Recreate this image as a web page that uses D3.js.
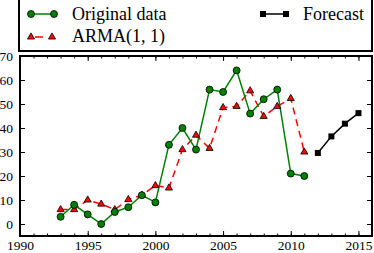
<!DOCTYPE html>
<html>
<head>
<meta charset="utf-8">
<script src="https://cdn.jsdelivr.net/npm/d3@7"></script>
<style>
  body { margin: 0; background: #fff; }
  svg text { font-family: "Liberation Serif", "DejaVu Serif", serif; fill: #000; }
</style>
</head>
<body>
<svg id="chart" width="374" height="253"></svg>
<script>
const years = [1993, 1994, 1995, 1996, 1997, 1998, 1999, 2000, 2001, 2002,
               2003, 2004, 2005, 2006, 2007, 2008, 2009, 2010, 2011];
const original = [3, 8, 4, 0, 5, 7, 12, 9, 33, 40, 31, 56, 55, 64, 46, 52, 56, 21, 20];
const arma = [6, 6, 10, 8.3, 6, 10.2, 12, 16, 15, 31, 37, 31.5, 48.5, 49, 55.5, 44.8, 49, 52.3, 30];
const forecastYears = [2012, 2013, 2014, 2015];
const forecast = [29.6, 36.5, 41.8, 46.2];
const xTicks = [1990, 1995, 2000, 2005, 2010, 2015];
const yTicks = [0, 10, 20, 30, 40, 50, 60, 70];
const legendLabels = ['Original data', 'ARMA(1, 1)', 'Forecast'];

const svg = d3.select('#chart');
const plot = {left: 20, right: 372, top: 56, bottom: 236};
const serif = '"Liberation Serif", "DejaVu Serif", serif';

const x = d3.scaleLinear().domain([1990, 2016]).range([plot.left, plot.right]);
const y = d3.scaleLinear().domain([-5, 70]).range([plot.bottom, plot.top]);

// inward ticks on every side
const axes = svg.append('g').attr('class', 'axes');
axes.append('g').attr('transform', `translate(0,${plot.bottom})`)
    .call(d3.axisBottom(x).tickValues(d3.range(1990, 2017)).tickSize(-2.5).tickFormat(''));
axes.append('g').attr('transform', `translate(0,${plot.top})`)
    .call(d3.axisTop(x).tickValues(d3.range(1990, 2017)).tickSize(-2.5).tickFormat(''));
axes.append('g').attr('transform', `translate(0,${plot.bottom})`)
    .call(d3.axisBottom(x).tickValues(xTicks).tickSize(-5).tickPadding(4.5).tickFormat(d3.format('d')));
axes.append('g').attr('transform', `translate(0,${plot.top})`)
    .call(d3.axisTop(x).tickValues(xTicks).tickSize(-5).tickFormat(''));
axes.append('g').attr('transform', `translate(${plot.left},0)`)
    .call(d3.axisLeft(y).tickValues(yTicks).tickSize(-5).tickPadding(7));
axes.append('g').attr('transform', `translate(${plot.right},0)`)
    .call(d3.axisRight(y).tickValues(yTicks).tickSize(-5).tickFormat(''));
axes.selectAll('.domain').remove();
axes.selectAll('.tick line').attr('stroke', '#000').attr('stroke-width', 1);
axes.selectAll('.tick text')
    .style('font-family', serif)
    .style('font-size', '13.5px');

svg.append('rect')
   .attr('x', plot.left).attr('y', plot.top)
   .attr('width', plot.right - plot.left).attr('height', plot.bottom - plot.top)
   .attr('fill', 'none').attr('stroke', '#000').attr('stroke-width', 2);

const line = d3.line().x(d => x(d[0])).y(d => y(d[1]));
const green = '#008000';

const armaPts = d3.zip(years, arma);
svg.append('path').datum(armaPts).attr('d', line)
   .attr('fill', 'none').attr('stroke', '#ff0000').attr('stroke-width', 1.5)
   .attr('stroke-dasharray', '7,5');

const origPts = d3.zip(years, original);
svg.append('path').datum(origPts).attr('d', line)
   .attr('fill', 'none').attr('stroke', green).attr('stroke-width', 1.5);

const fcPts = d3.zip(forecastYears, forecast);
svg.append('path').datum(fcPts).attr('d', line)
   .attr('fill', 'none').attr('stroke', '#000').attr('stroke-width', 1.5);

const tri = d3.symbol().type(d3.symbolTriangle).size(22);
const sq = d3.symbol().type(d3.symbolSquare).size(36);

svg.append('g').selectAll('path').data(armaPts).join('path')
   .attr('d', tri).attr('transform', d => `translate(${x(d[0])},${y(d[1])})`)
   .attr('fill', '#ff0000').attr('stroke', '#000').attr('stroke-width', 0.8);

svg.append('g').selectAll('circle').data(origPts).join('circle')
   .attr('cx', d => x(d[0])).attr('cy', d => y(d[1])).attr('r', 3.5)
   .attr('fill', green).attr('stroke', '#000').attr('stroke-width', 0.8);

svg.append('g').selectAll('path').data(fcPts).join('path')
   .attr('d', sq).attr('transform', d => `translate(${x(d[0])},${y(d[1])})`)
   .attr('fill', '#000');

// legend
const lg = svg.append('g');
lg.append('rect').attr('x', 19).attr('y', -1).attr('width', 353).attr('height', 52)
  .attr('fill', '#fff').attr('stroke', '#000').attr('stroke-width', 2);

lg.append('line').attr('x1', 31).attr('x2', 54).attr('y1', 14).attr('y2', 14)
  .attr('stroke', green).attr('stroke-width', 1.5);
[31, 54].forEach(cx => lg.append('circle').attr('cx', cx).attr('cy', 14).attr('r', 3.5)
  .attr('fill', green).attr('stroke', '#000').attr('stroke-width', 0.8));

lg.append('line').attr('x1', 35).attr('x2', 43).attr('y1', 37).attr('y2', 37)
  .attr('stroke', '#ff0000').attr('stroke-width', 1.5);
[31, 52].forEach(cx => lg.append('path').attr('d', tri)
  .attr('transform', `translate(${cx},37)`)
  .attr('fill', '#ff0000').attr('stroke', '#000').attr('stroke-width', 0.8));

lg.append('line').attr('x1', 263).attr('x2', 286).attr('y1', 14).attr('y2', 14)
  .attr('stroke', '#000').attr('stroke-width', 1.5);
[263, 286].forEach(cx => lg.append('path').attr('d', sq)
  .attr('transform', `translate(${cx},14)`).attr('fill', '#000'));

lg.selectAll('text.lab')
  .data([[72, 20], [72, 42], [303, 20]])
  .join('text')
  .attr('class', 'lab')
  .attr('x', d => d[0]).attr('y', d => d[1])
  .style('font-family', serif).style('font-size', '18px')
  .text((d, i) => legendLabels[i]);
</script>
</body>
</html>
